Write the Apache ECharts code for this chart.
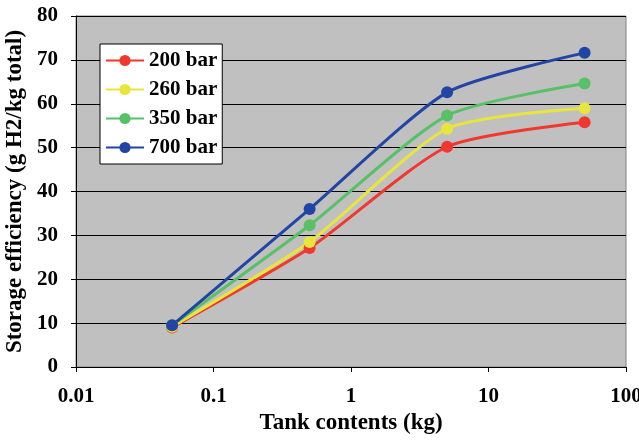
<!DOCTYPE html>
<html>
<head>
<meta charset="utf-8">
<script src="https://cdn.jsdelivr.net/npm/echarts@6/dist/echarts.min.js"></script>
<style>
  html, body { margin: 0; padding: 0; background: #fff; }
  #chart { width: 639px; height: 443px; }
</style>
</head>
<body>
<div id="chart"></div>
<script>
var tankKg = [0.05, 0.5, 5, 50];
var bar200 = [9.0, 27.1, 50.2, 55.8];
var bar260 = [9.2, 28.5, 54.3, 59.0];
var bar350 = [9.5, 32.3, 57.3, 64.6];
var bar700 = [9.5, 36.0, 62.6, 71.6];

var names = ['200 bar', '260 bar', '350 bar', '700 bar'];
var colors = ['#f0382e', '#e8e63c', '#58c066', '#2244a4'];
var values = [bar200, bar260, bar350, bar700];

var font = '"Liberation Serif", "Times New Roman", serif';

function pairs(ys) {
  return tankKg.map(function (x, i) { return [x, ys[i]]; });
}

var chart = echarts.init(document.getElementById('chart'));
chart.setOption({
  animation: false,
  backgroundColor: '#fff',
  textStyle: { fontFamily: font },
  grid: {
    left: 76, right: 13, top: 16, bottom: 76,
    outerBoundsMode: 'none',
    containLabel: false,
    show: true,
    backgroundColor: '#c0c0c0',
    borderColor: '#808080',
    borderWidth: 1
  },
  legend: {
    orient: 'vertical',
    left: 100, top: 44,
    backgroundColor: '#fff',
    borderColor: '#000',
    borderWidth: 1,
    padding: [6, 5, 6, 5],
    itemGap: 8,
    itemWidth: 38,
    itemHeight: 14,
    textStyle: { fontFamily: font, fontWeight: 'bold', fontSize: 21, color: '#000' },
    data: names
  },
  xAxis: {
    type: 'log',
    logBase: 10,
    min: 0.01,
    max: 100,
    name: 'Tank contents (kg)',
    nameLocation: 'middle',
    nameGap: 42,
    nameTextStyle: { fontFamily: font, fontWeight: 'bold', fontSize: 23, color: '#000' },
    axisLine: { lineStyle: { color: '#000', width: 1 } },
    axisTick: { show: true, length: 5, lineStyle: { color: '#000' } },
    minorTick: { show: false },
    splitLine: { show: false },
    axisLabel: {
      margin: 19,
      fontFamily: font, fontWeight: 'bold', fontSize: 21, color: '#000',
      formatter: function (v) { return String(+v.toPrecision(6)); }
    }
  },
  yAxis: {
    type: 'value',
    min: 0, max: 80, interval: 10,
    name: 'Storage efficiency (g H2/kg total)',
    nameLocation: 'middle',
    nameGap: 47,
    nameTextStyle: { fontFamily: font, fontWeight: 'bold', fontSize: 23, color: '#000' },
    axisLine: { show: true, lineStyle: { color: '#000', width: 1 } },
    axisTick: { show: true, length: 5, lineStyle: { color: '#000' } },
    splitLine: { show: true, lineStyle: { color: '#000', width: 1 } },
    axisLabel: {
      margin: 18,
      fontFamily: font, fontWeight: 'bold', fontSize: 21, color: '#000'
    }
  },
  series: names.map(function (n, i) {
    return {
      name: n,
      type: 'line',
      smooth: 0.22,
      data: pairs(values[i]),
      symbol: 'circle',
      symbolSize: 12,
      color: colors[i],
      lineStyle: { width: 3, color: colors[i] },
      itemStyle: { color: colors[i] }
    };
  })
});
</script>
</body>
</html>
